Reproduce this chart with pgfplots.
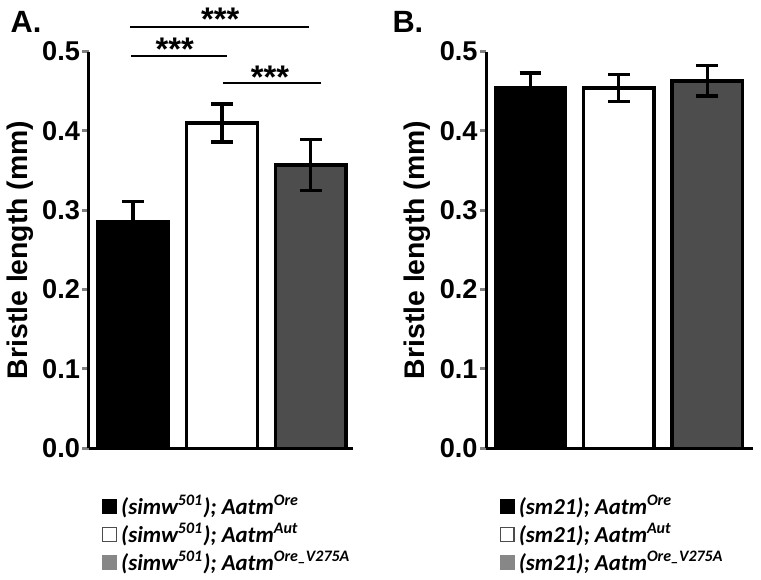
\documentclass[border=0pt]{standalone}
\usepackage{fontspec}
\setmainfont{Liberation Sans}
\newfontfamily\legfont{Carlito}
\usepackage{pgfplots}
\pgfplotsset{compat=1.18}

\definecolor{bargray}{HTML}{4D4D4D}
\definecolor{leggray}{HTML}{878787}

\tikzset{
  stars/.style={font=\bfseries\fontsize{16.5}{17}\selectfont, anchor=base, inner sep=0pt},
  plabel/.style={anchor=base west, inner sep=0pt, font=\bfseries\fontsize{15.5}{16}\selectfont},
}
\pgfplotsset{
  panel/.style={
    scale only axis, anchor=south west,
    height=200pt, ymin=0, ymax=0.5, xmin=0.5,
    axis x line*=bottom, axis y line*=left,
    axis line style={line width=1.6pt},
    xtick=\empty, ytick={0,0.1,0.2,0.3,0.4,0.5},
    ytick style={line width=1.6pt},
    major tick length=3.2pt, tick align=outside,
    yticklabel style={/pgf/number format/.cd, fixed, fixed zerofill, precision=1,
      assume math mode=true, /tikz/.cd,
      font=\bfseries\fontsize{13.7}{14}\selectfont, inner sep=1pt},
    ylabel={Bristle length (mm)},
    ylabel style={font=\bfseries\fontsize{14.3}{15}\selectfont},
    clip=false,
    legend cell align=left,
    legend image code/.code={\draw[#1, line width=0.6pt] (0pt,-3pt) rectangle (7pt,4pt);
      \path[draw=none, fill=none] (0pt,0pt) -- (8.4pt,0pt);},
    legend style={at={(axis description cs:0,0)}, anchor=north west,
      xshift=6.5pt, yshift=-23pt, draw=none, fill=none, inner sep=0pt,
      row sep=0.6pt,
      font=\legfont\bfseries\itshape\fontsize{11.5}{12}\selectfont,
      nodes={inner sep=1pt, text height=9pt, text depth=2.5pt}},
  },
  bar/.style={ybar, bar width=35.5pt, bar shift=0pt, draw=black,
    line width=1.6pt, forget plot,
    error bars/y dir=both, error bars/y explicit,
    error bars/error bar style={line width=1.6pt, black},
    error bars/error mark options={line width=1.6pt, mark size=5.5pt, black, rotate=90}},
}

\begin{document}
\begin{tikzpicture}
\path (0,0) rectangle (380.5pt,292pt);

\node[plabel] at (2pt,275.5pt) {A.};
\node[plabel] at (194.5pt,275.5pt) {B.};

% panel A
\begin{axis}[panel, at={(41.5pt,66pt)}, width=133.5pt, xmax=3.48]
  \addplot[bar, fill=black] coordinates {(1,0.286) +- (0,0.025)};
  \addplot[bar, fill=white] coordinates {(2,0.410) +- (0,0.024)};
  \addplot[bar, fill=bargray] coordinates {(3,0.357) +- (0,0.032)};
  \addlegendimage{fill=black, draw=black}
  \addlegendentry{(simw\textsuperscript{501}); Aatm\textsuperscript{Ore}}
  \addlegendimage{fill=white, draw=black!70}
  \addlegendentry{(simw\textsuperscript{501}); Aatm\textsuperscript{Aut}}
  \addlegendimage{fill=leggray, draw=leggray}
  \addlegendentry{(simw\textsuperscript{501}); Aatm\textsuperscript{Ore\_V275A}}
  % significance bars
  \draw[line width=1pt] (axis cs:0.97,0.531) -- (axis cs:2.98,0.531);
  \node[stars] at (axis cs:1.98,0.526) {***};
  \draw[line width=1pt] (axis cs:0.98,0.495) -- (axis cs:2.06,0.495);
  \node[stars] at (axis cs:1.47,0.489) {***};
  \draw[line width=1pt] (axis cs:2.01,0.461) -- (axis cs:3.11,0.461);
  \node[stars] at (axis cs:2.54,0.4535) {***};
\end{axis}

% panel B
\begin{axis}[panel, at={(242pt,66pt)}, width=134.5pt, xmax=3.52]
  \addplot[bar, fill=black] coordinates {(1,0.454) +- (0,0.019)};
  \addplot[bar, fill=white] coordinates {(2,0.454) +- (0,0.017)};
  \addplot[bar, fill=bargray] coordinates {(3,0.463) +- (0,0.019)};
  \addlegendimage{fill=black, draw=black}
  \addlegendentry{(sm21); Aatm\textsuperscript{Ore}}
  \addlegendimage{fill=white, draw=black!70}
  \addlegendentry{(sm21); Aatm\textsuperscript{Aut}}
  \addlegendimage{fill=leggray, draw=leggray}
  \addlegendentry{(sm21); Aatm\textsuperscript{Ore\_V275A}}
\end{axis}
\end{tikzpicture}
\end{document}
